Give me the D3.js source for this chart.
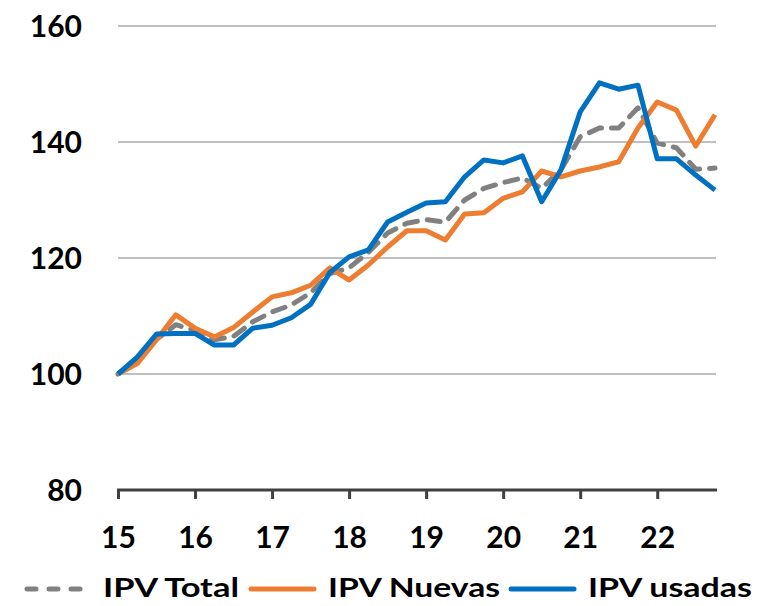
<!DOCTYPE html>
<html>
<head>
<meta charset="utf-8">
<script src="https://cdn.jsdelivr.net/npm/d3@7"></script>
<style>
  body { margin: 0; background: #fff; }
  svg text { font-family: Lato, "Noto Sans", sans-serif; font-weight: bold; fill: #000; }
</style>
</head>
<body>
<div id="chart"></div>
<script>
var width = 779,
	height = 606;

// quarterly index, 2015Q1 .. 2022Q4
var years = ["15", "16", "17", "18", "19", "20", "21", "22"];
var quarters = [];
years.forEach(function(y) { [1, 2, 3, 4].forEach(function(q) { quarters.push(y + "Q" + q); }); });

var ipvTotal = [100, 102.3, 106, 108.5, 107.5, 105.9, 106.5, 109, 110.7, 111.9, 114, 117.3,
	118.3, 121, 124.3, 126, 126.6, 126.2, 130, 132, 133, 133.8, 132, 135.2,
	140.9, 142.4, 142.4, 145.9, 139.8, 139, 135.3, 135.5];
var ipvNuevas = [100, 101.8, 105.9, 110.2, 107.9, 106.4, 108, 110.7, 113.3, 114, 115.3, 118.3,
	116.2, 118.8, 121.9, 124.7, 124.7, 123.1, 127.6, 127.8, 130.3, 131.4, 135, 134,
	135, 135.7, 136.6, 142.4, 146.9, 145.5, 139.3, 144.7];
var ipvUsadas = [100, 102.9, 106.9, 107, 107, 105, 105, 107.9, 108.4, 109.7, 112, 117.5,
	120.2, 121.4, 126.2, 127.9, 129.5, 129.7, 134, 136.9, 136.4, 137.6, 129.7, 135.2,
	145.2, 150.2, 149.1, 149.8, 137.1, 137.1, 134.3, 131.7];
var yTicks = [80, 100, 120, 140, 160];

var series = [
	{name: "IPV Total", values: ipvTotal, color: "#808080", dash: "13,10"},
	{name: "IPV Nuevas", values: ipvNuevas, color: "#ED7D31", dash: null},
	{name: "IPV usadas", values: ipvUsadas, color: "#0070C0", dash: null}
];

var x = d3.scalePoint().domain(quarters).range([118, 715]);
var y = d3.scaleLinear().domain([80, 160]).range([490, 26]);

var svg = d3.select("#chart")
	.append("svg")
	.attr("width", width)
	.attr("height", height);

// gridlines
svg.append("g")
	.selectAll("line")
	.data(yTicks.filter(function(d) { return d > 80; }))
	.enter()
	.append("line")
	.attr("x1", 118)
	.attr("x2", 716)
	.attr("y1", function(d) { return y(d); })
	.attr("y2", function(d) { return y(d); })
	.attr("stroke", "#BFBFBF")
	.attr("stroke-width", 2);

// y labels
var yAxis = svg.append("g")
	.attr("transform", "translate(82,0)")
	.call(d3.axisLeft(y).tickValues(yTicks).tickSize(0).tickPadding(0));
yAxis.select(".domain").remove();
yAxis.selectAll("text")
	.style("font-size", "30px")
	.attr("dy", "0.36em");

// x axis
var xAxis = svg.append("g")
	.attr("transform", "translate(0," + y(80) + ")")
	.call(d3.axisBottom(x)
		.tickValues(years.map(function(d) { return d + "Q1"; }))
		.tickFormat(function(d) { return d.slice(0, 2); })
		.tickSizeInner(9)
		.tickSizeOuter(0)
		.tickPadding(28));
xAxis.select(".domain")
	.attr("stroke", "#404040")
	.attr("stroke-width", 3)
	.attr("d", "M117,0H717");
xAxis.selectAll(".tick line")
	.attr("stroke", "#404040")
	.attr("stroke-width", 3);
xAxis.selectAll("text")
	.style("font-size", "30px");

// lines
var line = d3.line()
	.x(function(d, i) { return x(quarters[i]); })
	.y(function(d) { return y(d); });

svg.append("g")
	.selectAll("path")
	.data(series)
	.enter()
	.append("path")
	.attr("d", function(d) { return line(d.values); })
	.attr("fill", "none")
	.attr("stroke", function(d) { return d.color; })
	.attr("stroke-width", 5)
	.attr("stroke-linejoin", "round")
	.attr("stroke-linecap", function(d) { return d.dash ? "round" : "butt"; })
	.attr("stroke-dasharray", function(d) { return d.dash; });

// legend
var legendPos = [{sx: 27, tx: 103, w: 136}, {sx: 251, tx: 328, w: 172}, {sx: 511, tx: 588, w: 164}];
var legend = svg.append("g")
	.selectAll("g")
	.data(series)
	.enter()
	.append("g");

legend.append("line")
	.attr("x1", function(d, i) { return legendPos[i].sx; })
	.attr("x2", function(d, i) { return legendPos[i].sx + 63; })
	.attr("y1", 589)
	.attr("y2", 589)
	.attr("stroke", function(d) { return d.color; })
	.attr("stroke-width", 5)
	.attr("stroke-linecap", "round")
	.attr("stroke-dasharray", function(d) { return d.dash ? "9,13" : null; });

legend.append("text")
	.attr("x", function(d, i) { return legendPos[i].tx; })
	.attr("y", 597)
	.attr("textLength", function(d, i) { return legendPos[i].w; })
	.attr("lengthAdjust", "spacingAndGlyphs")
	.style("font-size", "27px")
	.text(function(d) { return d.name; });
</script>
</body>
</html>
